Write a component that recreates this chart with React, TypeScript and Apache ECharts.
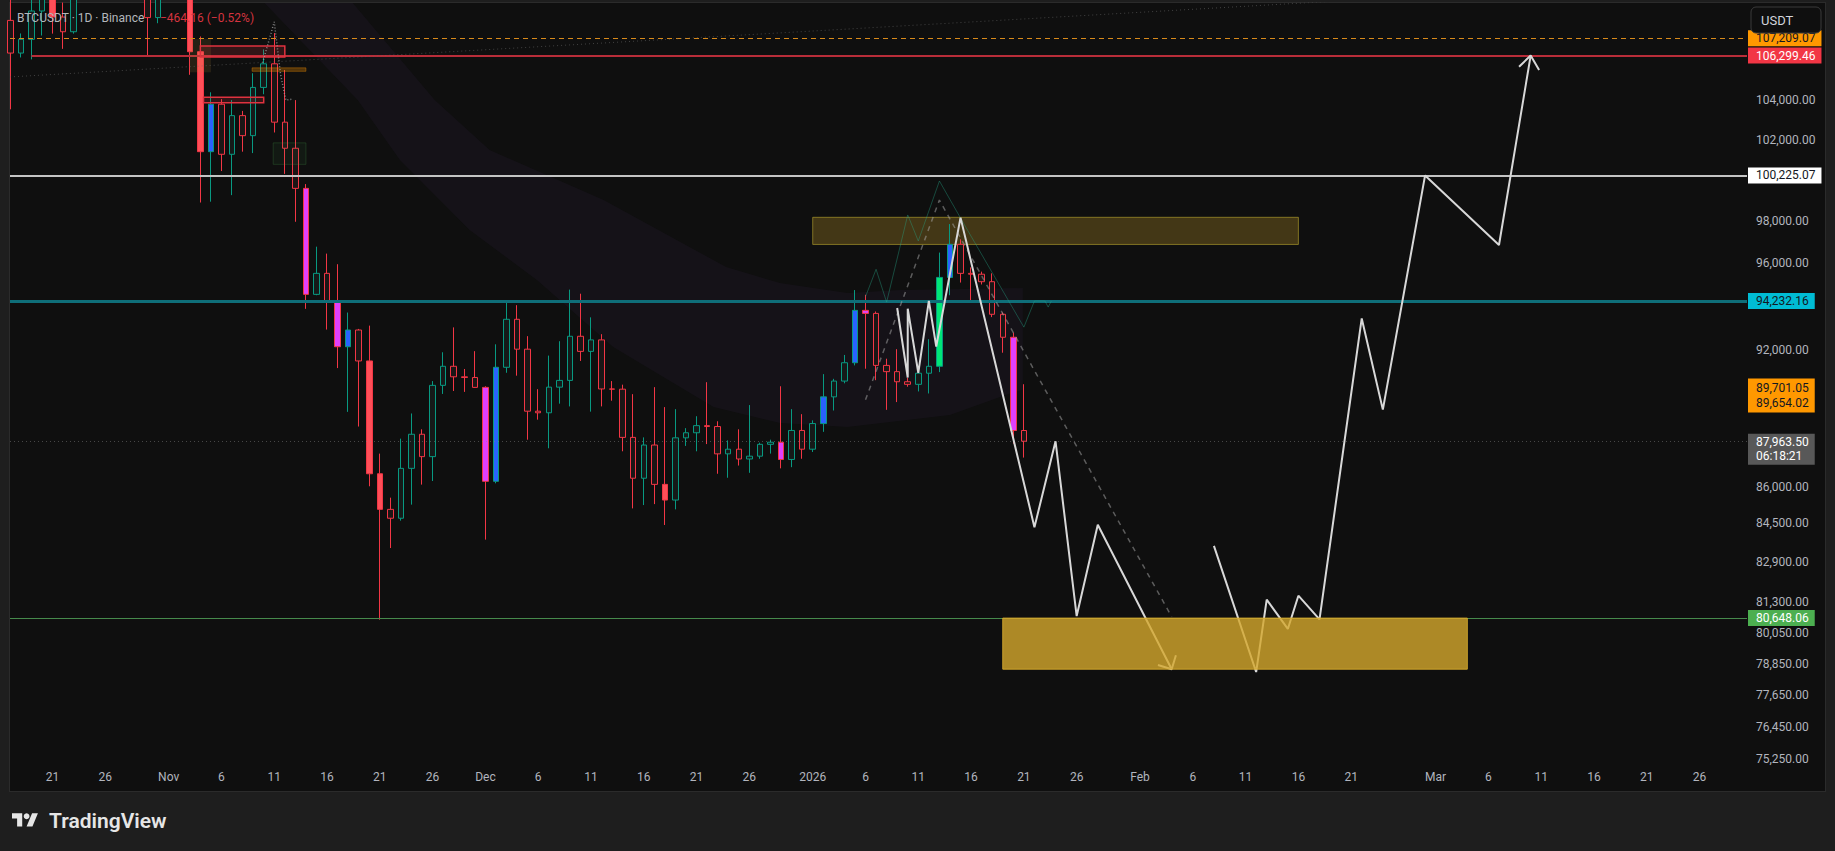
import React, { useEffect, useRef } from 'react';
import * as echarts from 'echarts';

// ---------- time helpers (days counted from 2025-10-17) ----------
const START_UTC = Date.UTC(2025, 9, 17);
const DAY_MS = 86400000;
const dayIndex = (iso: string) => (Date.parse(iso + 'T00:00:00Z') - START_UTC) / DAY_MS;
const isoOfIndex = (i: number) => new Date(START_UTC + i * DAY_MS).toISOString().slice(0, 10);

// ---------- BTCUSDT daily candles, first bar = 2025-10-17 ----------
const opens = [
  108150, 106430, 107150, 108650, 110530, 108330, 107550, 110050, 111000, 111650,
  114550, 114100, 112900, 110050, 108300, 109600, 110100, 110600, 106500, 101400,
  103790, 101270, 103210, 102200, 104650, 105870, 102880, 101570, 99590, 94540,
  95520, 94240, 92140, 92900, 91500, 86570, 85070, 84700, 86800, 88265,
  87300, 90410, 91260, 90790, 90760, 90320, 86250, 91215, 93390, 92030,
  89270, 89200, 90330, 90630, 92615, 91930, 92450, 90250, 90240, 88130,
  86380, 87800, 86120, 85460, 88110, 88330, 88640, 88600, 87420, 87620,
  87200, 87320, 87830, 87920, 87180, 88430, 87620, 88730, 89900, 90600,
  91420, 93800, 93660, 91300, 91020, 90570, 90455, 90950, 91260, 95330,
  96890, 95520, 95480, 95130, 93620, 92570, 88427.66,
];
const highs = [
  109250, 107460, 109450, 111700, 114000, 109100, 111300, 112000, 111950, 115000,
  116400, 116100, 113600, 111600, 111200, 110600, 111250, 110800, 107300, 104400,
  104050, 104000, 103450, 105380, 106620, 107480, 105550, 104000, 99800, 96780,
  96450, 95950, 93700, 92950, 93100, 87430, 85560, 88075, 89170, 88480,
  90600, 91890, 93020, 91140, 91940, 90370, 92250, 94140, 94040, 92620,
  90240, 91740, 92390, 94760, 94570, 93480, 92710, 90600, 90440, 90020,
  88130, 90330, 89450, 89360, 88530, 89050, 90550, 88830, 88000, 88480,
  89540, 87900, 88030, 90370, 89360, 89140, 88870, 90910, 90700, 91770,
  94740, 94520, 93750, 91600, 92030, 90740, 91190, 92480, 96500, 97860,
  97130, 95800, 95600, 95520, 93700, 92780, 90460,
];
const lows = [
  103530, 106200, 106100, 107350, 107450, 106650, 107450, 109700, 110500, 111300,
  113800, 112200, 109700, 106250, 108000, 109400, 109500, 105300, 98900, 98940,
  100440, 99260, 101400, 101330, 104300, 102360, 100300, 97970, 93870, 94500,
  92920, 91180, 89240, 88600, 86040, 80585, 83470, 84600, 85268, 86110,
  86262, 90030, 90160, 90120, 90300, 83815, 86165, 90970, 90840, 88030,
  88900, 87660, 89600, 89480, 91500, 89250, 89480, 89730, 87530, 85110,
  85250, 85290, 84420, 85070, 87760, 87530, 87840, 86570, 86400, 86920,
  86610, 87210, 87430, 86800, 86850, 87210, 87500, 88370, 89300, 90500,
  91300, 91150, 90640, 89330, 89670, 90350, 90140, 90050, 91000, 94500,
  95090, 94210, 95000, 93490, 91870, 87860, 87260,
];
const closes = [
  106430, 107150, 108650, 110530, 108330, 107550, 110050, 111000, 111650, 114550,
  114100, 112900, 110050, 108300, 109600, 110100, 110600, 106500, 101400, 103790,
  101270, 103210, 102200, 104650, 105870, 102880, 101570, 99590, 94540, 95520,
  94240, 92140, 92900, 91500, 86570, 85070, 84700, 86800, 88265, 87300,
  90410, 91260, 90790, 90760, 90320, 86250, 91215, 93390, 92030, 89270,
  89200, 90330, 90630, 92615, 91930, 92450, 90250, 90240, 88130, 86380,
  87800, 86120, 85460, 88110, 88330, 88640, 88600, 87420, 87620, 87200,
  87320, 87830, 87920, 87180, 88430, 87620, 88730, 89900, 90600, 91420,
  93800, 93660, 91300, 91020, 90570, 90455, 90950, 91260, 95330, 96890,
  95520, 95480, 95130, 93620, 92570, 88427.66, 87963.5,
];

// indicator-coloured bars
const redSolidDates = ['2025-10-21', '2025-11-03', '2025-11-04', '2025-11-20', '2025-11-21', '2025-12-18'];
const blueDates = ['2025-11-05', '2025-11-18', '2025-12-02', '2026-01-02', '2026-01-05', '2026-01-14'];
const magentaDates = ['2025-11-14', '2025-11-17', '2025-12-01', '2025-12-29', '2026-01-06', '2026-01-20'];
const limeDates = ['2026-01-13'];

// ---------- axes ----------
const tickDates = [
  '2025-10-21', '2025-10-26', '2025-11-01', '2025-11-06', '2025-11-11', '2025-11-16', '2025-11-21', '2025-11-26',
  '2025-12-01', '2025-12-06', '2025-12-11', '2025-12-16', '2025-12-21', '2025-12-26', '2026-01-01', '2026-01-06',
  '2026-01-11', '2026-01-16', '2026-01-21', '2026-01-26', '2026-02-01', '2026-02-06', '2026-02-11', '2026-02-16',
  '2026-02-21', '2026-03-01', '2026-03-06', '2026-03-11', '2026-03-16', '2026-03-21', '2026-03-26',
];
const tickTexts = [
  '21', '26', 'Nov', '6', '11', '16', '21', '26', 'Dec', '6', '11', '16', '21', '26', '2026', '6',
  '11', '16', '21', '26', 'Feb', '6', '11', '16', '21', 'Mar', '6', '11', '16', '21', '26',
];
const priceTicks = [104000, 102000, 98000, 96000, 92000, 86000, 84500, 82900, 81300, 80050, 78850, 77650, 76450, 75250];

// ---------- horizontal levels ----------
const levelOrange = 107209.07;
const levelRed = 106299.46;
const levelWhite = 100225.07;
const levelTeal = 94232.16;
const levelGreen = 80648.06;
const indicatorA = 89701.05;
const indicatorB = 89654.02;
const lastPrice = 87963.5;
const countdown = '06:18:21';
const change = '−464.16 (−0.52%)';

// ---------- drawings [day offset, price] ----------
const bandUpper = [
  [32.2, 109239], [40.2, 104003], [45.4, 101483], [56.2, 99017], [67.8, 95818],
  [72.9, 95068], [79.3, 94603], [84.3, 94742], [95.9, 94835],
];
const bandLower = [
  [23.8, 109239], [32.9, 104003], [36.9, 100982], [43.5, 97576], [49.9, 95201],
  [57.1, 92128], [66.6, 89452], [72.9, 88752], [79.3, 88578], [89.0, 89101],
  [94.8, 90070], [95.9, 90215],
];
const projectionA = [
  [84, 93910], [85, 90760], [85, 93880], [86, 90970], [87, 94240], [87.7, 92150],
  [90, 98170], [97, 84330], [99, 87960], [101, 80730], [103, 84430], [110, 78650],
];
const arrowA = [[108.7, 78810], [110, 78650], [110.4, 79190]];
const projectionB = [
  [114, 83560], [118, 78540], [119, 81380], [121, 80220], [122, 81540], [124, 80600],
  [128, 93430], [130, 89340], [134, 100225], [141, 96860], [144, 106299],
];
const arrowB = [[142.9, 105720], [144, 106299], [144.8, 105550]];
const tealZigzag = [
  [81, 94430], [82, 95710], [83, 94180], [85, 98300], [86, 97050], [88, 99950],
  [90, 98150], [96, 93030], [97, 94230], [98, 94230], [98.3, 93950], [98.6, 94230],
];
const dashedPath = [[81, 89770], [88, 99020], [110, 80700]];
const dottedZigzag = [[23.9, 105930], [25, 108070], [25.6, 105310], [26.1, 104000], [26.7, 104050]];
const dottedTrend = [[-0.03, 105190], [127.4, 109239]];

// boxes [x1, price1, x2, price2]
const goldZone = [[94, 80648.06, 138, 78650]];
const oliveZone = [[76, 98185, 122, 96886]];
const redBoxes = [[18, 106800, 26, 106230], [18.3, 104150, 24, 103870]];
const orangeBoxes = [[22.9, 105660, 28, 105480]];
const brownBoxes = [[17, 107160, 19, 105430]];
const greenBoxes = [[24.9, 101840, 28, 100770]];

const FONT = 'Roboto, "Liberation Sans", "DejaVu Sans", sans-serif';
const X_MIN = -0.0284;
const X_MAX = 164.49;
const INVISIBLE = 'rgba(0,0,0,0)';

try {
  echarts.graphic.registerShape(
    'tvlogo',
    echarts.graphic.extendPath('M14 22H7V11H0V4h14v18zM28 22h-8l7.5-18h8L28 22z', {}) as any
  );
} catch (e) {
  /* ignore */
}

const fmt2 = (v: number) => v.toLocaleString('en-US', { minimumFractionDigits: 2, maximumFractionDigits: 2 });

function rectSeries(data: number[][], z: number, style: any) {
  return {
    type: 'custom',
    z,
    silent: true,
    clip: true,
    encode: { x: [0, 2], y: [1, 3] },
    data,
    renderItem: (_p: any, api: any) => {
      const a = api.coord([api.value(0), api.value(1)]);
      const b = api.coord([api.value(2), api.value(3)]);
      return {
        type: 'rect',
        shape: {
          x: Math.min(a[0], b[0]),
          y: Math.min(a[1], b[1]),
          width: Math.abs(b[0] - a[0]),
          height: Math.abs(b[1] - a[1]),
        },
        style,
      };
    },
  };
}

function lineSeries(data: number[][], z: number, lineStyle: any, extra: any = {}) {
  return {
    type: 'line',
    z,
    silent: true,
    symbol: 'none',
    showSymbol: false,
    clip: true,
    animation: false,
    data,
    lineStyle,
    ...extra,
  };
}

export default function App() {
  const ref = useRef<HTMLDivElement>(null);

  useEffect(() => {
    document.body.style.margin = '0';
    document.body.style.background = '#1e1e1e';
    if (!ref.current) return;
    const chart = echarts.init(ref.current, null, { renderer: 'svg' });

    const candleData = opens.map((o, i) => {
      const date = isoOfIndex(i);
      let itemStyle: any = undefined;
      if (redSolidDates.includes(date)) {
        itemStyle = { color: '#ff4f58', color0: '#ff4f58', borderColor: '#f23645', borderColor0: '#f23645' };
      } else if (blueDates.includes(date)) {
        itemStyle = { color: '#2962ff', color0: '#2962ff', borderColor: '#089981', borderColor0: '#089981' };
      } else if (magentaDates.includes(date)) {
        itemStyle = { color: '#e040fb', color0: '#e040fb', borderColor: '#f23645', borderColor0: '#f23645' };
      } else if (limeDates.includes(date)) {
        itemStyle = { color: '#00e676', color0: '#00e676', borderColor: '#089981', borderColor0: '#089981' };
      }
      return { value: [i, o, closes[i], lows[i], highs[i]], itemStyle };
    });

    const tickDays = tickDates.map(dayIndex);

    const boxLabel = (bg: string, fg: string, extra: any = {}) => ({
      show: true,
      position: 'end',
      distance: 1,
      backgroundColor: bg,
      color: fg,
      opacity: 1,
      padding: [2, 6, 1, 8],
      lineHeight: 13,
      fontSize: 12,
      fontFamily: FONT,
      ...extra,
    });

    const hidden = { color: INVISIBLE, width: 1, opacity: 1 };

    const labelItems: any[] = [
      ...priceTicks.map((v) => ({ yAxis: v, lineStyle: hidden, label: { formatter: fmt2(v) } })),
      { yAxis: levelOrange, lineStyle: hidden, label: { formatter: fmt2(levelOrange), ...boxLabel('#ff9800', '#131722') } },
      { yAxis: levelRed, lineStyle: hidden, label: { formatter: fmt2(levelRed), ...boxLabel('#f23645', '#ffffff') } },
      { yAxis: levelWhite, lineStyle: hidden, label: { formatter: fmt2(levelWhite), ...boxLabel('#ffffff', '#131722') } },
      { yAxis: levelTeal, lineStyle: hidden, label: { formatter: fmt2(levelTeal), ...boxLabel('#00bcd4', '#131722') } },
      {
        yAxis: indicatorA,
        lineStyle: hidden,
        label: {
          formatter: fmt2(indicatorA) + '\n' + fmt2(indicatorB),
          ...boxLabel('#ff9800', '#131722', { lineHeight: 15, padding: [2, 6, 2, 8], offset: [0, -6] }),
        },
      },
      {
        yAxis: lastPrice,
        lineStyle: hidden,
        label: {
          formatter: fmt2(lastPrice) + '\n' + countdown,
          ...boxLabel('#585858', '#ffffff', { lineHeight: 14, padding: [2, 6, 1, 8], offset: [0, 8] }),
        },
      },
      { yAxis: levelGreen, lineStyle: hidden, label: { formatter: fmt2(levelGreen), ...boxLabel('#4caf50', '#ffffff') } },
    ];

    const option: any = {
      animation: false,
      backgroundColor: 'transparent',
      textStyle: { fontFamily: FONT },
      grid: { left: 10, right: 88, top: 3, bottom: 89, containLabel: false, outerBoundsMode: 'none' },
      xAxis: {
        type: 'value',
        min: X_MIN,
        max: X_MAX,
        axisLine: { show: false, onZero: false },
        axisTick: { show: false },
        splitLine: { show: false },
        axisLabel: {
          customValues: tickDays,
          formatter: (v: number) => {
            const i = tickDays.findIndex((t) => Math.abs(t - v) < 0.01);
            return i >= 0 ? tickTexts[i] : '';
          },
          color: '#b2b5be',
          fontSize: 12,
          margin: 9,
          fontFamily: FONT,
        },
      },
      yAxis: {
        type: 'log',
        logBase: 10,
        min: 75147,
        max: 109078,
        position: 'right',
        axisLabel: { show: false },
        axisLine: { show: false },
        axisTick: { show: false },
        splitLine: { show: false },
        minorSplitLine: { show: false },
      },
      series: [
        // purple channel cloud
        {
          type: 'custom',
          z: 1,
          silent: true,
          clip: true,
          data: [[50, 95000]],
          renderItem: (_p: any, api: any) => {
            const up = bandUpper.map((p) => api.coord(p));
            const lo = bandLower.map((p) => api.coord(p)).reverse();
            return {
              type: 'polygon',
              shape: { points: [...up, ...lo] },
              style: { fill: 'rgba(125, 70, 175, 0.06)' },
            };
          },
        },
        rectSeries(oliveZone, 1, { fill: 'rgba(212,167,44,0.27)', stroke: 'rgba(200,180,50,0.55)', lineWidth: 1 }),
        {
          type: 'candlestick',
          z: 2,
          silent: true,
          clip: true,
          barWidth: 6,
          itemStyle: {
            color: '#151a19',
            color0: '#1b1616',
            borderColor: '#089981',
            borderColor0: '#f23645',
            borderColorDoji: '#f23645',
            borderWidth: 1,
          },
          data: candleData,
        },
        rectSeries(brownBoxes, 3, { fill: 'rgba(190,150,60,0.14)' }),
        rectSeries(greenBoxes, 3, { fill: 'rgba(76,175,80,0.07)', stroke: 'rgba(76,175,80,0.22)', lineWidth: 1 }),
        rectSeries(orangeBoxes, 3, { fill: 'rgba(255,152,0,0.28)', stroke: 'rgba(255,152,0,0.35)', lineWidth: 1 }),
        rectSeries(redBoxes, 3, { fill: 'rgba(242,54,69,0.16)', stroke: '#e0323f', lineWidth: 1.5 }),
        // horizontal levels
        lineSeries([[X_MIN, levelWhite]], 3, { width: 0 }, {
          markLine: {
            silent: true,
            animation: false,
            symbol: ['none', 'none'],
            z: 3,
            label: { show: false },
            data: [
              { yAxis: levelOrange, lineStyle: { color: '#d98a1a', width: 1, type: [5, 4] } },
              [
                { coord: [2, levelRed], lineStyle: { color: '#b92d39', width: 2, type: 'solid' } },
                { coord: [X_MAX, levelRed] },
              ],
              { yAxis: levelWhite, lineStyle: { color: '#c4c4c4', width: 2, type: 'solid' } },
              { yAxis: levelTeal, lineStyle: { color: '#0f6e79', width: 3, type: 'solid' } },
              { yAxis: levelGreen, lineStyle: { color: '#468a4c', width: 1, type: 'solid' } },
              { yAxis: lastPrice, lineStyle: { color: 'rgba(140,140,140,0.45)', width: 1, type: [1, 3] } },
            ],
          },
        }),
        lineSeries(dottedTrend, 4, { color: 'rgba(110,110,110,0.55)', width: 1, type: [1, 3] }),
        lineSeries(dottedZigzag, 4, { color: 'rgba(170,170,170,0.75)', width: 1.5, type: [1, 2] }),
        lineSeries(tealZigzag, 4, { color: 'rgba(40,170,140,0.38)', width: 1 }),
        lineSeries(dashedPath, 4, { color: 'rgba(170,170,170,0.5)', width: 1.5, type: [5, 5] }),
        lineSeries(projectionA, 5, { color: '#d8d8d8', width: 2 }),
        lineSeries(arrowA, 5, { color: '#d8d8d8', width: 2 }),
        lineSeries(projectionB, 5, { color: '#d8d8d8', width: 2 }),
        lineSeries(arrowB, 5, { color: '#d8d8d8', width: 2 }),
        rectSeries(goldZone, 6, { fill: 'rgba(212,167,44,0.8)', stroke: 'rgba(212,167,44,0.9)', lineWidth: 1 }),
        // price-scale labels
        lineSeries([[X_MIN, levelWhite]], 10, { width: 0 }, {
          clip: false,
          markLine: {
            silent: true,
            animation: false,
            symbol: ['none', 'none'],
            z: 10,
            lineStyle: hidden,
            label: {
              show: true,
              position: 'end',
              distance: 9,
              color: '#b2b5be',
              fontSize: 12,
              fontFamily: FONT,
              opacity: 1,
            },
            data: labelItems,
          },
        }),
      ],
      graphic: [
        {
          type: 'text',
          z: 100,
          x: 17,
          y: 17.5,
          style: { text: 'BTCUSDT · 1D · Binance', fill: '#b4b7bc', font: `12px ${FONT}`, verticalAlign: 'middle' },
        },
        {
          type: 'text',
          z: 100,
          x: 160,
          y: 17.5,
          style: { text: change, fill: '#d6343f', font: `12px ${FONT}`, verticalAlign: 'middle' },
        },
        {
          type: 'rect',
          z: 100,
          shape: { x: 1751, y: 7, width: 70, height: 26, r: 5 },
          style: { fill: '#0f0f0f', stroke: '#3a3a3a', lineWidth: 1 },
        },
        {
          type: 'text',
          z: 101,
          x: 1761,
          y: 20,
          style: { text: 'USDT', fill: '#d1d4dc', font: `13px ${FONT}`, verticalAlign: 'middle' },
        },
        {
          type: 'tvlogo',
          z: 100,
          x: 12,
          y: 810.4,
          scaleX: 0.73,
          scaleY: 0.73,
          style: { fill: '#e6e6e6' },
        },
        {
          type: 'circle',
          z: 100,
          shape: { cx: 12 + 20 * 0.73, cy: 810.4 + 8 * 0.73, r: 4 * 0.73 },
          style: { fill: '#e6e6e6' },
        },
        {
          type: 'text',
          z: 100,
          x: 49,
          y: 821,
          style: { text: 'TradingView', fill: '#e6e6e6', font: `600 21px ${FONT}`, verticalAlign: 'middle' },
        },
      ],
    };

    chart.setOption(option);
    return () => chart.dispose();
  }, []);

  return (
    <div style={{ position: 'absolute', left: 0, top: 0, width: 1835, height: 851, background: '#1e1e1e', overflow: 'hidden' }}>
      <div
        style={{
          position: 'absolute',
          left: 9,
          top: 2,
          width: 1817,
          height: 790,
          background: '#0f0f0f',
          border: '1px solid #2b2b2b',
          boxSizing: 'border-box',
        }}
      />
      <div ref={ref} style={{ position: 'absolute', left: 0, top: 0, width: 1835, height: 851 }} />
    </div>
  );
}
